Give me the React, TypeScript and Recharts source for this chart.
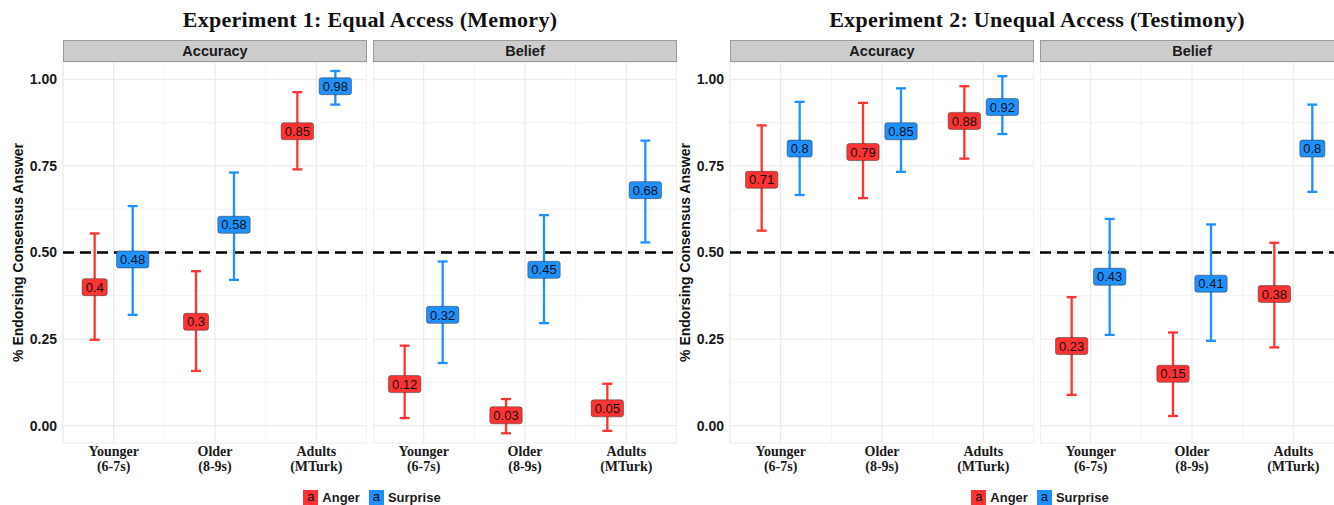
import React from 'react';
import { ComposedChart, Scatter, ErrorBar, XAxis, YAxis, ReferenceLine, CartesianGrid, Label } from 'recharts';

const groups = ['Younger', 'Older', 'Adults'];
const groupNotes = ['(6-7s)', '(8-9s)', '(MTurk)'];
const emotions = ['Anger', 'Surprise'];
const yTicks = [0, 0.25, 0.5, 0.75, 1];
const yMinor = [0.125, 0.375, 0.625, 0.875];
const xMinor = [0.5, 1.5, 2.5, 3.5];
const chance = 0.5;

// Experiment 1: equal access (memory)
const e1AccAnger = [0.4, 0.3, 0.85];
const e1AccAngerCI = [[0.248, 0.555], [0.158, 0.446], [0.74, 0.963]];
const e1AccSurprise = [0.48, 0.58, 0.98];
const e1AccSurpriseCI = [[0.32, 0.634], [0.421, 0.731], [0.927, 1.024]];
const e1BelAnger = [0.12, 0.03, 0.05];
const e1BelAngerCI = [[0.022, 0.231], [-0.022, 0.077], [-0.015, 0.121]];
const e1BelSurprise = [0.32, 0.45, 0.68];
const e1BelSurpriseCI = [[0.181, 0.474], [0.296, 0.608], [0.529, 0.823]];

// Experiment 2: unequal access (testimony)
const e2AccAnger = [0.71, 0.79, 0.88];
const e2AccAngerCI = [[0.563, 0.867], [0.657, 0.932], [0.771, 0.98]];
const e2AccSurprise = [0.8, 0.85, 0.92];
const e2AccSurpriseCI = [[0.666, 0.935], [0.733, 0.974], [0.842, 1.009]];
const e2BelAnger = [0.23, 0.15, 0.38];
const e2BelAngerCI = [[0.089, 0.371], [0.028, 0.269], [0.226, 0.528]];
const e2BelSurprise = [0.43, 0.41, 0.8];
const e2BelSurpriseCI = [[0.262, 0.597], [0.245, 0.581], [0.675, 0.927]];

const RED = '#ff3333';
const BLUE = '#1e90ff';
const SANS = '"Liberation Sans", Arial, Helvetica, sans-serif';
const SERIF = '"Liberation Serif", "DejaVu Serif", serif';
const PW = 304; // panel width
const YW = 63; // y axis width
const DODGE = 0.1875;

const toRows = (means: number[], ci: number[][], shift: number) =>
  means.map((m, i) => ({ x: i + 1 + shift, v: m, err: [m - ci[i][0], ci[i][1] - m] }));

const textWidth = (s: string) => s.split('').reduce((w, c) => w + (c === '.' ? 3.6 : 7.25), 0);

const ValueTag = (props: any) => {
  const { cx, cy, payload, color } = props;
  const txt = String(payload.v);
  const w = textWidth(txt) + 7;
  const h = 17;
  return (
    <g>
      <rect x={cx - w / 2} y={cy - h / 2} width={w} height={h} rx={2.5} fill={color} stroke="#333" strokeOpacity={0.7} strokeWidth={0.7} />
      <text x={cx} y={cy} dy="0.36em" textAnchor="middle" fontSize={13} fontFamily={SANS} fill="#111">{txt}</text>
    </g>
  );
};

const GroupTick = (props: any) => {
  const { x, y, payload } = props;
  const i = Math.round(payload.value) - 1;
  return (
    <g>
      <text x={x} y={y + 13} textAnchor="middle" fontSize={14} fontWeight="bold" fontFamily={SERIF} fill="#1a1a1a">{groups[i]}</text>
      <text x={x} y={y + 28} textAnchor="middle" fontSize={14} fontWeight="bold" fontFamily={SERIF} fill="#1a1a1a">{groupNotes[i]}</text>
    </g>
  );
};

interface FacetProps {
  left: number;
  axis: boolean;
  strip: string;
  anger: number[];
  angerCI: number[][];
  surprise: number[];
  surpriseCI: number[][];
}

const Facet: React.FC<FacetProps> = ({ left, axis, strip, anger, angerCI, surprise, surpriseCI }) => {
  const yw = axis ? YW : 0;
  const angerRows = toRows(anger, angerCI, -DODGE);
  const surpriseRows = toRows(surprise, surpriseCI, DODGE);
  return (
    <div style={{ position: 'absolute', left: left - yw, top: 40 }}>
      <div
        style={{
          marginLeft: yw, width: PW, height: 22, boxSizing: 'border-box', background: '#cccccc',
          border: '1px solid #9a9a9a', fontFamily: SANS, fontWeight: 'bold', fontSize: 14.5,
          textAlign: 'center', lineHeight: '20px', color: '#1a1a1a',
        }}
      >
        {strip}
      </div>
      <ComposedChart width={PW + yw} height={416} margin={{ top: 0, right: 0, bottom: 0, left: 0 }}>
        <CartesianGrid stroke="#ebebeb" strokeWidth={1.2} />
        <XAxis
          type="number"
          dataKey="x"
          domain={[0.5, 3.5]}
          ticks={[1, 2, 3]}
          interval={0}
          allowDataOverflow
          height={35}
          axisLine={false}
          tickLine={false}
          tickSize={0}
          tickMargin={0}
          tick={<GroupTick />}
        />
        <YAxis
          type="number"
          dataKey="v"
          domain={[-0.05, 1.05]}
          ticks={yTicks}
          allowDataOverflow
          hide={!axis}
          width={YW}
          axisLine={false}
          tickLine={false}
          tickSize={3}
          tickMargin={3}
          tickFormatter={(v: number) => v.toFixed(2)}
          tick={{ fill: '#1a1a1a', fontSize: 14, fontWeight: 'bold', fontFamily: SANS }}
        >
          {axis && (
            <Label
              content={({ viewBox }: any) => {
                const cx = viewBox.x + 18;
                const cy = viewBox.y + viewBox.height / 2;
                return (
                  <text x={cx} y={cy} transform={`rotate(-90 ${cx} ${cy})`} textAnchor="middle" dy="0.35em" fontSize={14} fontWeight="bold" fontFamily={SANS} fill="#111">
                    % Endorsing Consensus Answer
                  </text>
                );
              }}
            />
          )}
        </YAxis>
        {yMinor.map((v) => (
          <ReferenceLine key={`hy${v}`} y={v} stroke="#ebebeb" strokeWidth={0.6} />
        ))}
        {xMinor.map((v) => (
          <ReferenceLine key={`vx${v}`} x={v} stroke="#ebebeb" strokeWidth={0.6} />
        ))}
        <ReferenceLine y={chance} stroke="#000" strokeWidth={2.5} strokeDasharray="11 6" />
        <Scatter name={emotions[0]} data={angerRows} isAnimationActive={false} shape={(p: any) => <ValueTag {...p} color={RED} />}>
          <ErrorBar dataKey="err" direction="y" width={5} stroke={RED} strokeWidth={2.3} isAnimationActive={false} />
        </Scatter>
        <Scatter name={emotions[1]} data={surpriseRows} isAnimationActive={false} shape={(p: any) => <ValueTag {...p} color={BLUE} />}>
          <ErrorBar dataKey="err" direction="y" width={5} stroke={BLUE} strokeWidth={2.3} isAnimationActive={false} />
        </Scatter>
      </ComposedChart>
    </div>
  );
};

const LegendRow: React.FC<{ center: number }> = ({ center }) => (
  <div style={{ position: 'absolute', left: center - 200, width: 400, top: 490, display: 'flex', justifyContent: 'center', alignItems: 'center', fontFamily: SANS }}>
    {emotions.map((e, i) => (
      <div key={e} style={{ display: 'flex', alignItems: 'center', marginRight: i === 0 ? 9 : 0 }}>
        <div style={{ width: 15, height: 15, background: i === 0 ? RED : BLUE, fontSize: 13, lineHeight: '14px', textAlign: 'center', color: '#111' }}>a</div>
        <span style={{ marginLeft: 4, fontSize: 13, fontWeight: 'bold', color: '#1a1a1a' }}>{e}</span>
      </div>
    ))}
  </div>
);

const Title: React.FC<{ center: number; text: string }> = ({ center, text }) => (
  <div style={{ position: 'absolute', left: center - 300, width: 600, top: 7, textAlign: 'center', fontFamily: SERIF, fontWeight: 'bold', fontSize: 22, letterSpacing: 0.3, color: '#111', lineHeight: '26px' }}>
    {text}
  </div>
);

export default function App() {
  return (
    <div style={{ position: 'fixed', left: 0, top: 0, width: 1334, height: 505, overflow: 'hidden', background: '#fff' }}>
      <Title center={370} text="Experiment 1: Equal Access (Memory)" />
      <Title center={1037} text="Experiment 2: Unequal Access (Testimony)" />
      <Facet left={63} axis strip="Accuracy" anger={e1AccAnger} angerCI={e1AccAngerCI} surprise={e1AccSurprise} surpriseCI={e1AccSurpriseCI} />
      <Facet left={373} axis={false} strip="Belief" anger={e1BelAnger} angerCI={e1BelAngerCI} surprise={e1BelSurprise} surpriseCI={e1BelSurpriseCI} />
      <Facet left={730} axis strip="Accuracy" anger={e2AccAnger} angerCI={e2AccAngerCI} surprise={e2AccSurprise} surpriseCI={e2AccSurpriseCI} />
      <Facet left={1040} axis={false} strip="Belief" anger={e2BelAnger} angerCI={e2BelAngerCI} surprise={e2BelSurprise} surpriseCI={e2BelSurpriseCI} />
      <LegendRow center={372} />
      <LegendRow center={1040} />
    </div>
  );
}
